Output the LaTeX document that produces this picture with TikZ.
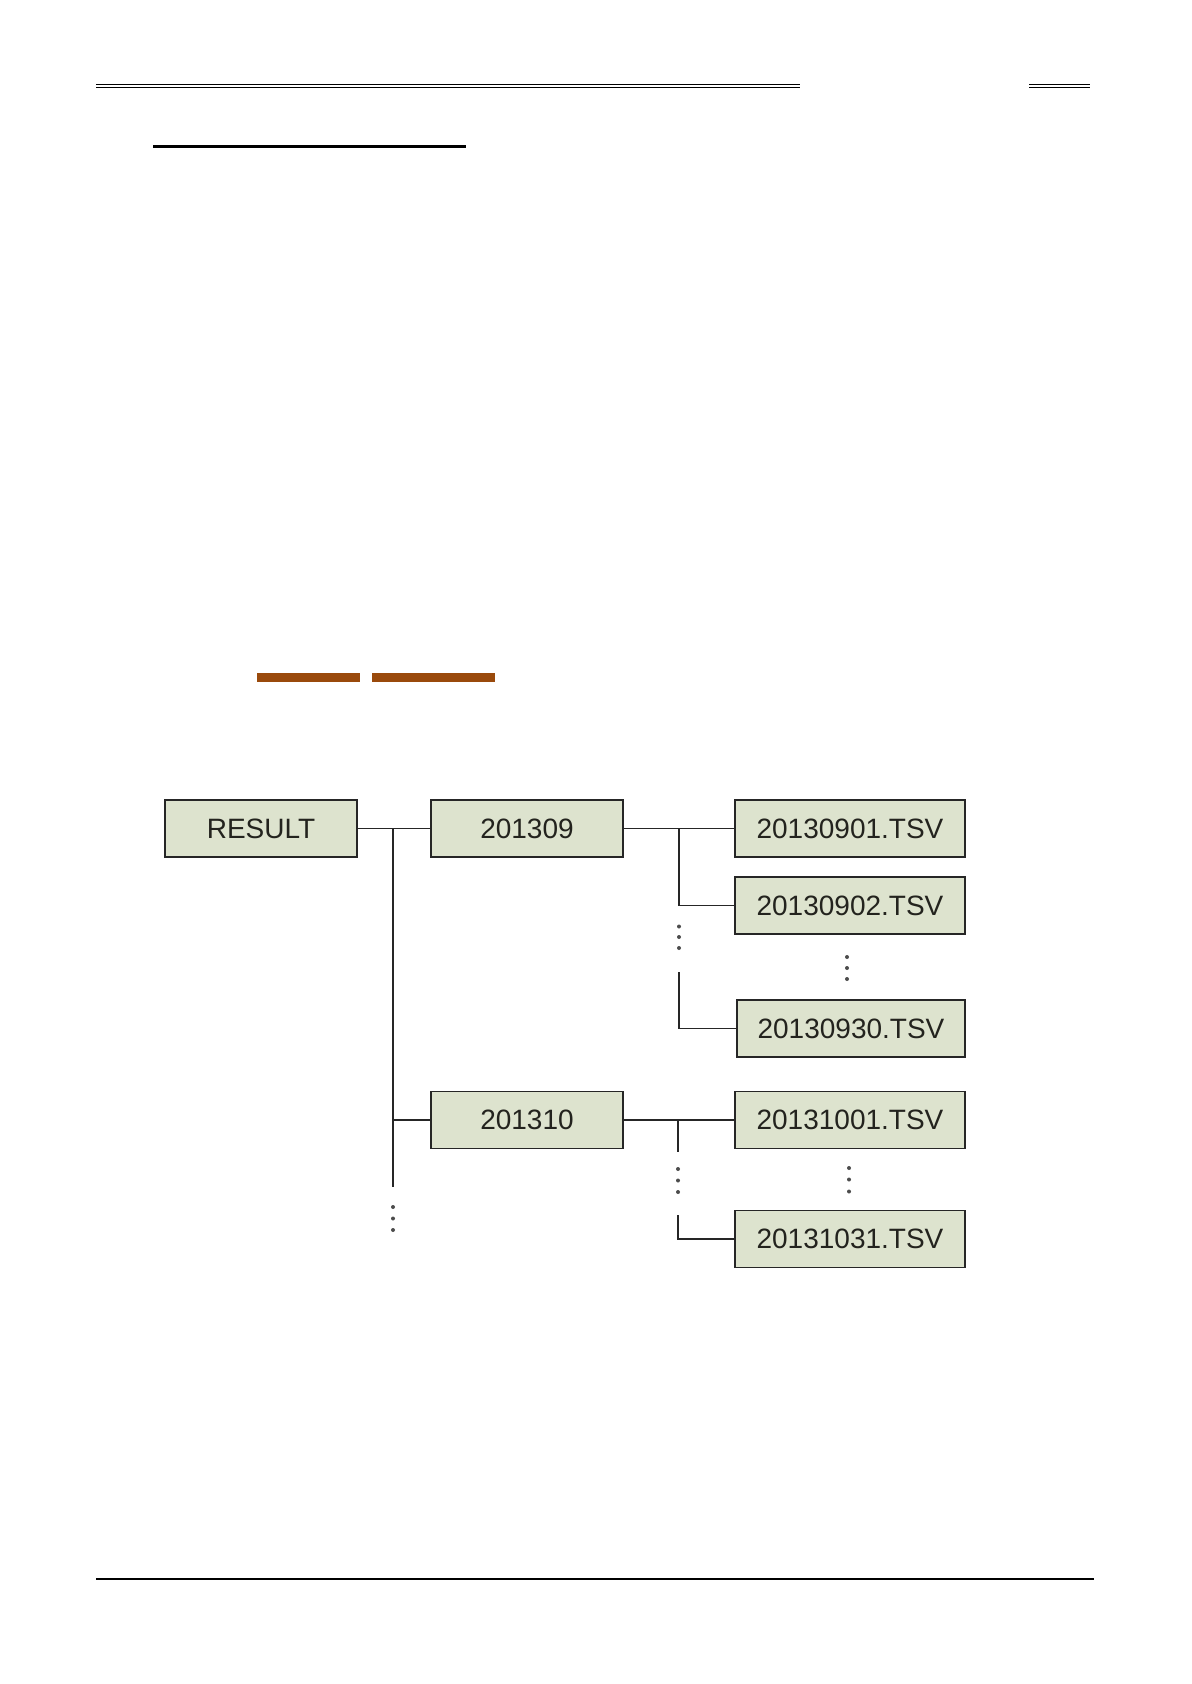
\documentclass[tikz,border=0pt]{standalone}
\usepackage{fontspec}
\setmainfont{Liberation Sans}
\definecolor{boxfill}{RGB}{221,227,206}
\definecolor{boxtext}{RGB}{35,35,30}
\definecolor{brownbar}{RGB}{154,74,12}
\tikzset{
  fbox/.style={draw=black!85, line width=0.9pt, fill=boxfill, text=boxtext,
    inner sep=0pt, minimum height=28.5pt, font=\fontsize{14}{16}\selectfont},
  conn/.style={draw=black!85, line width=0.85pt},
  vdot/.style={fill=black!70, circle, inner sep=0pt, minimum size=2pt},
  rule/.style={draw=black, line width=0.5pt}
}
\begin{document}
\begin{tikzpicture}[x=0.5pt,y=-0.5pt]
\useasboundingbox (0,0) rectangle (1191,1684);
% header rules
\coordinate (h1a) at (96,85);   \coordinate (h1b) at (800,85);
\coordinate (h2a) at (96,87.6); \coordinate (h2b) at (800,87.6);
\coordinate (h3a) at (1029,85); \coordinate (h3b) at (1090,85);
\coordinate (h4a) at (1029,87.6); \coordinate (h4b) at (1090,87.6);
\draw[rule] (h1a) -- (h1b);
\draw[rule] (h2a) -- (h2b);
\draw[rule] (h3a) -- (h3b);
\draw[rule] (h4a) -- (h4b);
\coordinate (ula) at (153,146.5); \coordinate (ulb) at (466,146.5);
\draw[draw=black, line width=1.5pt] (ula) -- (ulb);
% brown bars
\fill[brownbar] (257,673) rectangle (360,682);
\fill[brownbar] (372,673) rectangle (495,682);
% footer rule
\coordinate (fa) at (96,1579); \coordinate (fb) at (1094,1579);
\draw[draw=black, line width=1.2pt] (fa) -- (fb);
% boxes
\node[fbox, minimum width=96pt] (result) at (261,828.5) {RESULT};
\node[fbox, minimum width=96pt] (m09) at (527,828.5) {201309};
\node[fbox, minimum width=115pt] (f0901) at (850,828.5) {20130901.TSV};
\node[fbox, minimum width=115pt] (f0902) at (850,905.5) {20130902.TSV};
\node[fbox, minimum width=114pt] (f0930) at (851,1028.5) {20130930.TSV};
\node[fbox, minimum width=96pt] (m10) at (527,1120) {201310};
\node[fbox, minimum width=115pt] (f1001) at (850,1120) {20131001.TSV};
\node[fbox, minimum width=115pt] (f1031) at (850,1239) {20131031.TSV};
% trunk
\coordinate (t0) at (393,828.5);
\coordinate (t1) at (393,1120);
\coordinate (tend) at (393,1187);
\draw[conn] (result.east) -- (m09.west);
\draw[conn] (t0) -- (tend);
\draw[conn] (t1) -- (m10.west);
\node[vdot] (td1) at (393,1207) {};
\node[vdot] (td2) at (393,1218.5) {};
\node[vdot] (td3) at (393,1230) {};
% 201309 branch
\coordinate (b0) at (679,828.5);
\coordinate (b1) at (679,905.5);
\coordinate (b2) at (679,972);
\coordinate (b3) at (679,1028.5);
\draw[conn] (m09.east) -- (f0901.west);
\draw[conn] (b0) -- (b1) -- (f0902.west);
\draw[conn] (b2) -- (b3) -- (f0930.west);
\node[vdot] (bd1) at (679,926.5) {};
\node[vdot] (bd2) at (679,937) {};
\node[vdot] (bd3) at (679,948) {};
\node[vdot] (rd1) at (847,957) {};
\node[vdot] (rd2) at (847,968) {};
\node[vdot] (rd3) at (847,979) {};
% 201310 branch
\coordinate (c0) at (678,1120);
\coordinate (c1) at (678,1152);
\coordinate (c2) at (678,1215);
\coordinate (c3) at (678,1239);
\draw[conn] (m10.east) -- (f1001.west);
\draw[conn] (c0) -- (c1);
\draw[conn] (c2) -- (c3) -- (f1031.west);
\node[vdot] (cd1) at (678,1169) {};
\node[vdot] (cd2) at (678,1180.5) {};
\node[vdot] (cd3) at (678,1192) {};
\node[vdot] (sd1) at (849,1168) {};
\node[vdot] (sd2) at (849,1179.5) {};
\node[vdot] (sd3) at (849,1191.5) {};
\end{tikzpicture}
\end{document}
